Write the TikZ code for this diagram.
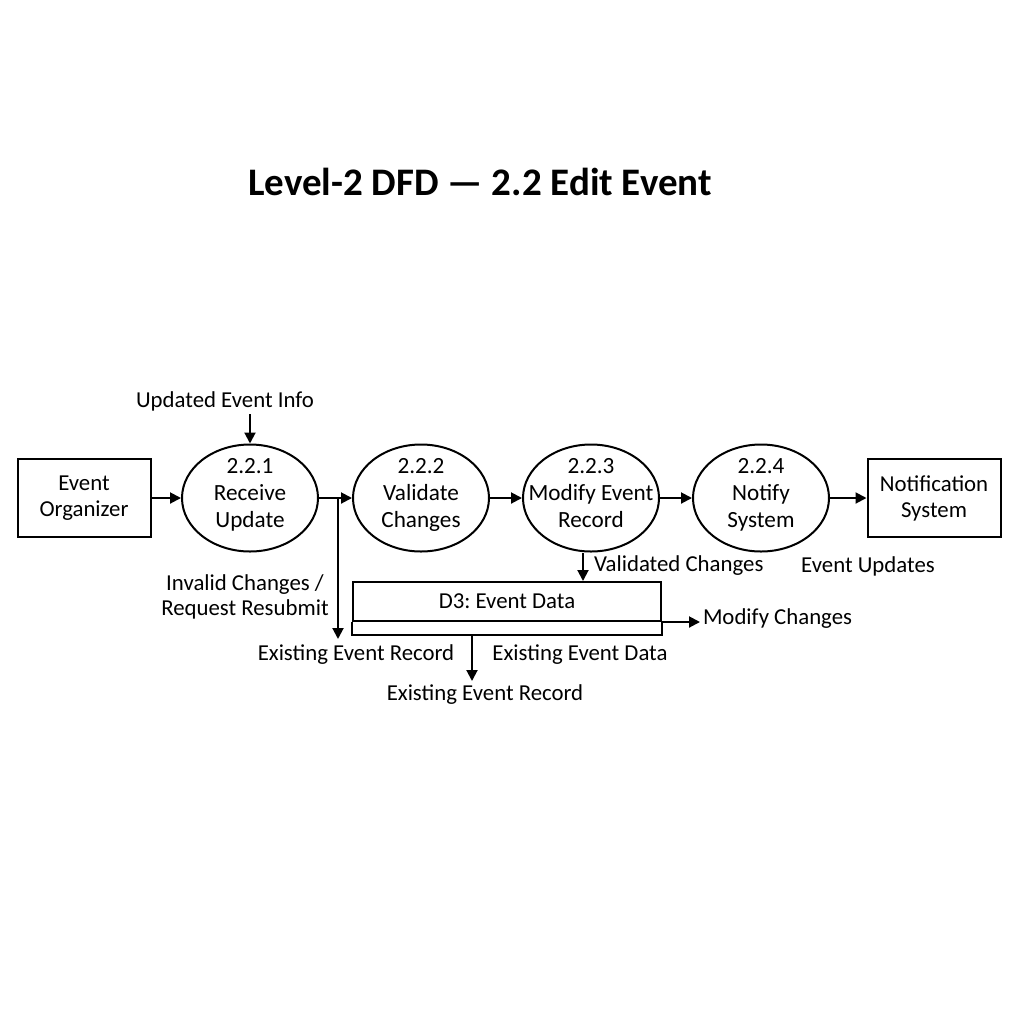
\documentclass[tikz,border=0pt]{standalone}
\usepackage{fontspec}
\setmainfont{Carlito}
\usetikzlibrary{shapes.geometric,arrows.meta}
\frenchspacing

\begin{document}
\begin{tikzpicture}[x=0.5pt,y=-0.5pt,line width=1pt,
	proc/.style={draw,ellipse,minimum width=68pt,minimum height=53.5pt,inner xsep=-8pt,inner ysep=-3pt,align=center,font=\fontsize{11.6}{13.5}\selectfont,execute at end node={\rule[-5.5pt]{0pt}{0pt}}},
	ext/.style={draw,minimum width=66.5pt,minimum height=39pt,inner sep=0pt,align=center,font=\fontsize{11.4}{13}\selectfont},
	store/.style={draw,minimum width=154pt,minimum height=19.5pt,inner sep=0pt,font=\fontsize{11.4}{12.8}\selectfont},
	lbl/.style={inner sep=1pt,align=center,font=\fontsize{11.4}{12.8}\selectfont},
	flow/.style={-{Triangle[length=5.5pt,width=5.5pt]}}]
			\useasboundingbox (0,0) rectangle (1024,1024);
			\node[font=\fontsize{19.5}{22}\selectfont\bfseries] (title) at (480,182) {Level-2 DFD — 2.2 Edit Event};
			% processes and entities
			\node[ext] (org) at (84,498) {Event\\Organizer};
			\node[proc] (p1) at (250,498) {2.2.1\\Receive\\Update};
			\node[proc] (p2) at (421,498) {2.2.2\\Validate\\Changes};
			\node[proc] (p3) at (591,498) {2.2.3\\Modify Event\\Record};
			\node[proc] (p4) at (761,498) {2.2.4\\Notify\\System};
			\node[ext] (ns) at (934,498) {Notification\\System};
			% data store
			\node[store] (d3) at (507,601.5) {D3: Event Data};
			\draw (d3.south west) -- ++(0,13) -| (d3.south east);
			% labels
			\node[lbl] (upd) at (225,401) {Updated Event Info};
			\node[lbl] (inv) at (245,597) {Invalid Changes /\\Request Resubmit};
			\node[lbl] (rec1) at (356,655) {Existing Event Record};
			\node[lbl, anchor=west] (vcl) at (591,566) {Validated Changes};
			\node[lbl] (evu) at (868,566) {Event Updates};
			\node[lbl, anchor=west] (mod) at (700,619) {Modify Changes};
			\node[lbl] (dat) at (580,655) {Existing Event Data};
			\node[lbl] (rec2) at (485,695) {Existing Event Record};
			\coordinate (updin) at (250,414);
			\coordinate (br) at (338,498);
			\coordinate (rej) at (338,639);
			\coordinate (vc) at (583,553);
			\coordinate (outa) at (472,634);
			\coordinate (outb) at (472,681);
			% flows
			\draw[flow] (updin) -- (p1.north);
			\draw[flow] (org.east) -- (p1.west);
			\draw[flow] (p1.east) -- (p2.west);
			\draw[flow] (br) -- (rej);
			\draw[flow] (p2.east) -- (p3.west);
			\draw[flow] (p3.east) -- (p4.west);
			\draw[flow] (p4.east) -- (ns.west);
			\draw[flow] (vc) -- (vc |- d3.north);
			\draw[flow] (d3.south east) -- (d3.south east -| mod.west);
			\draw[flow] (outa) -- (outb);
		\end{tikzpicture}
\end{document}
